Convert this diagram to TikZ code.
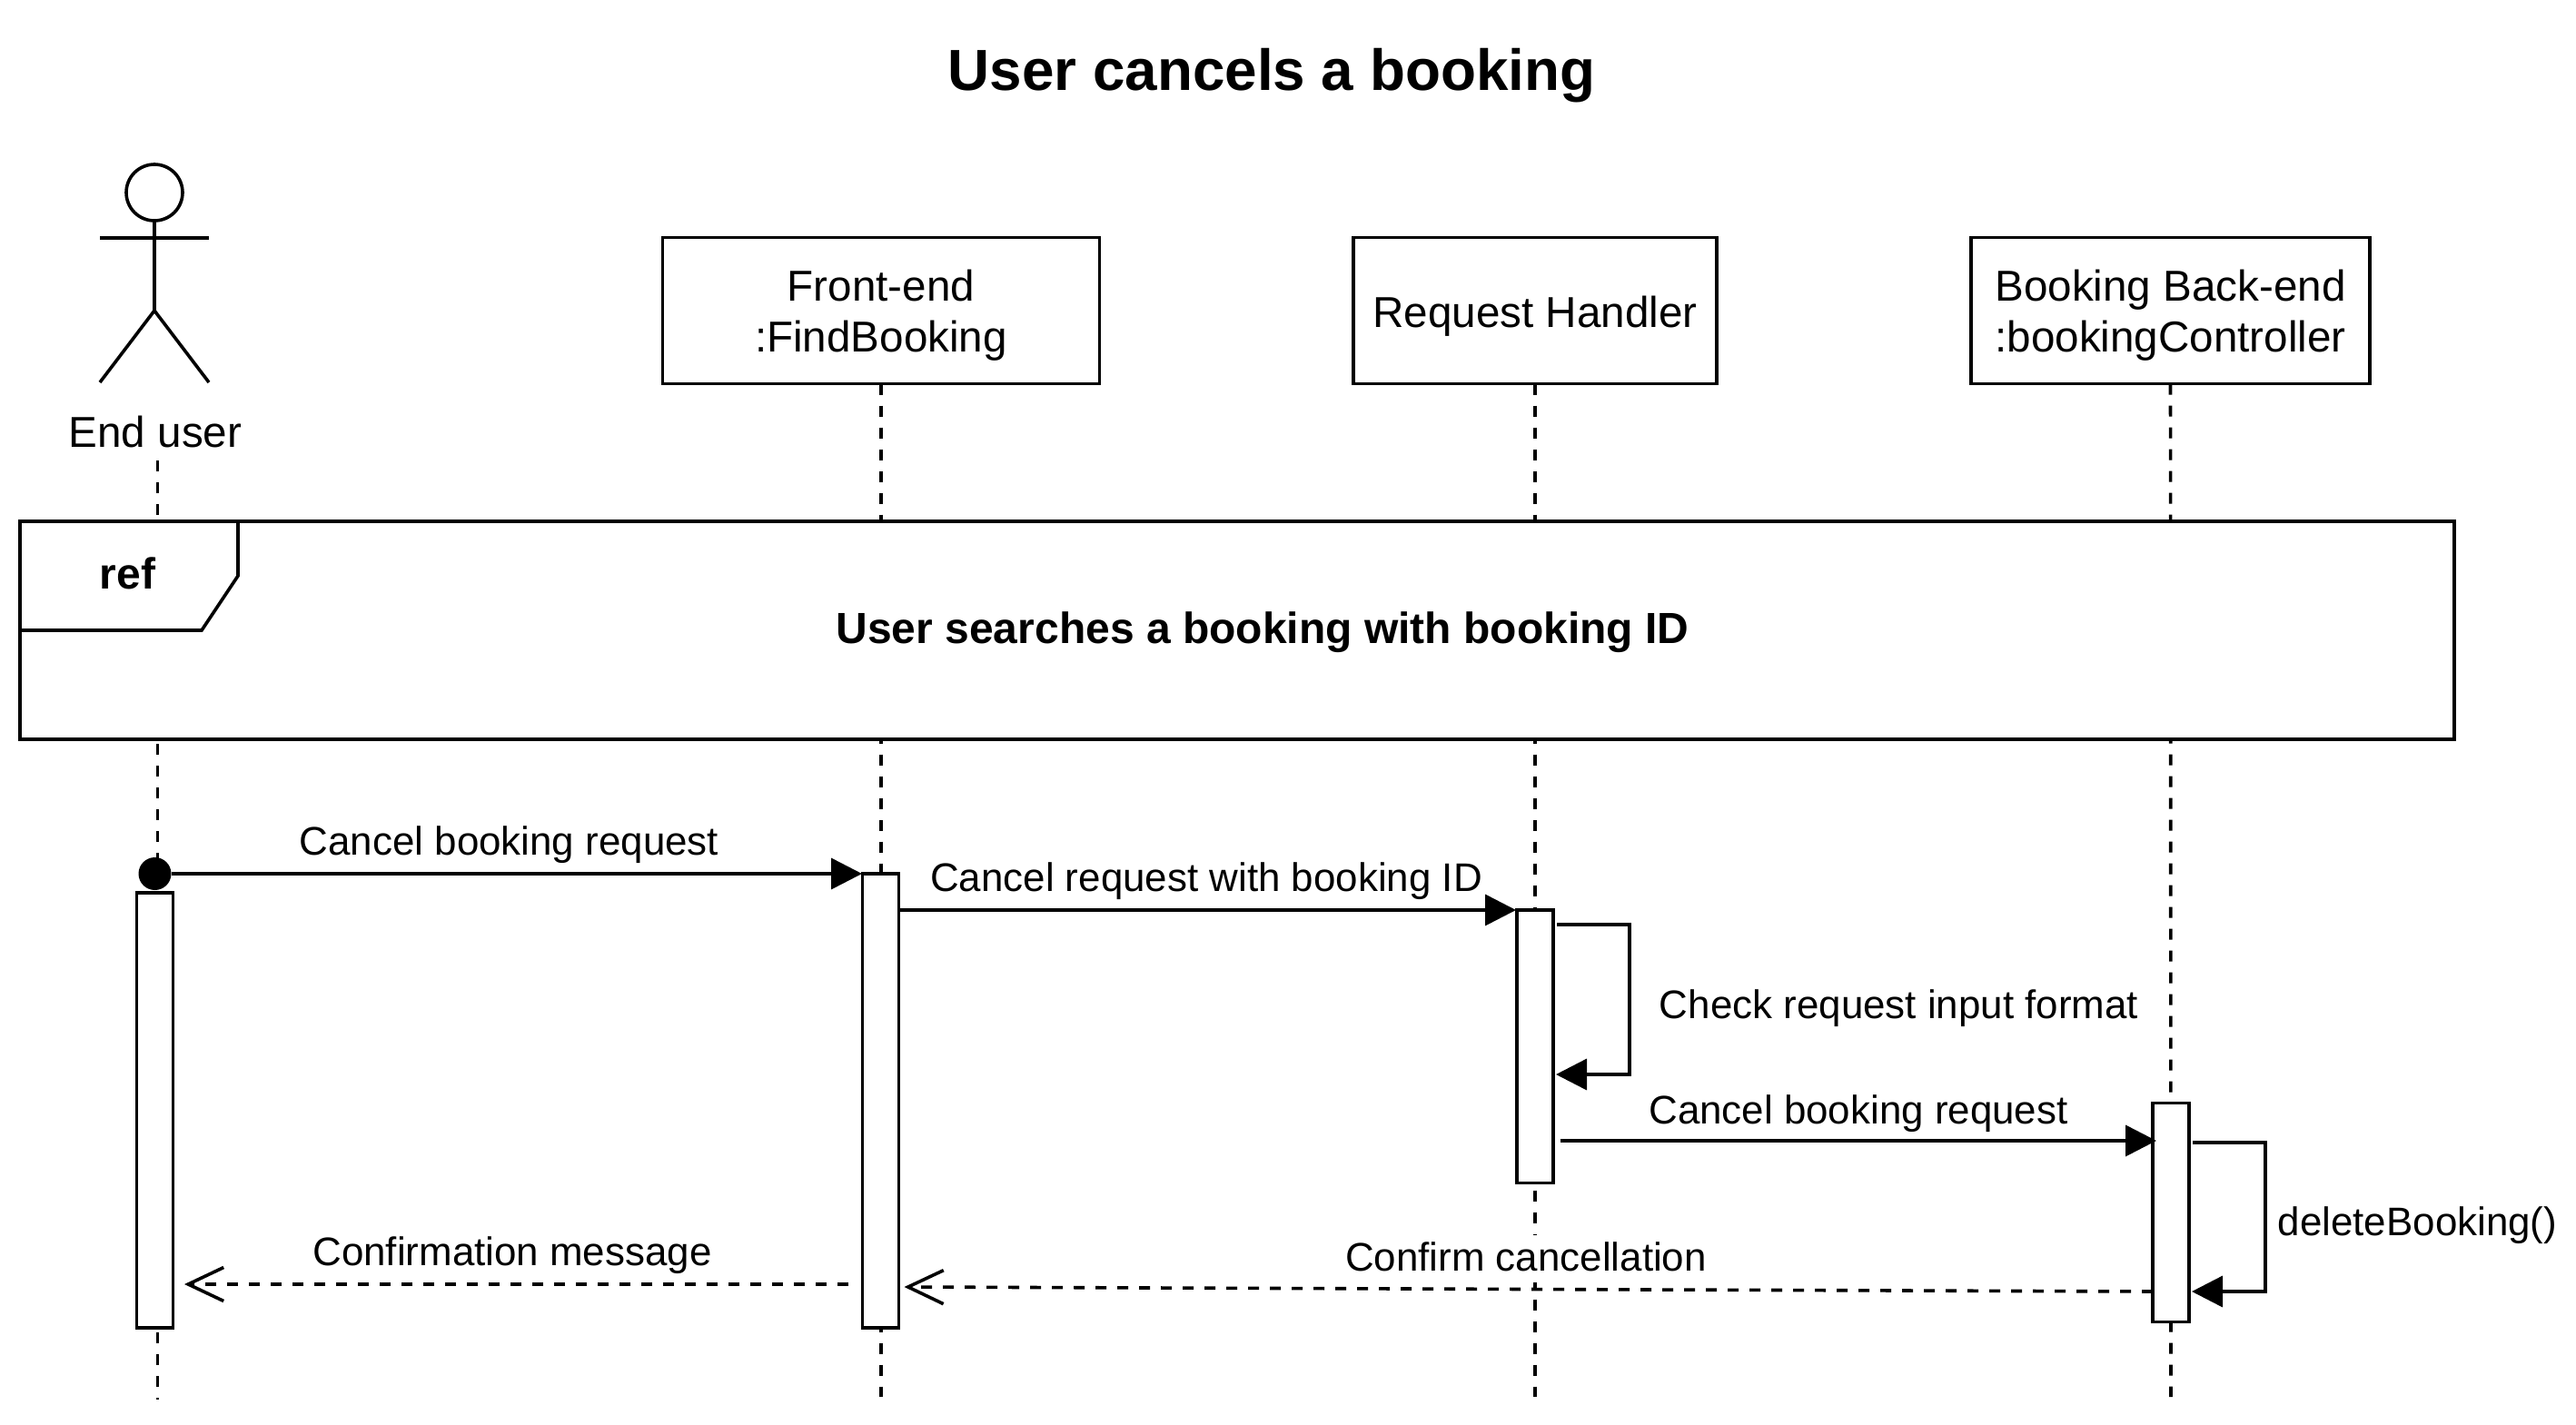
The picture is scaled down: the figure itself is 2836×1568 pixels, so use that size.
\documentclass[tikz,border=0pt]{standalone}
\usepackage{fontspec}
\setmainfont{Liberation Sans}
\usetikzlibrary{arrows.meta}
\newcommand{\fbig}{\fontsize{23.8}{28}\selectfont}
\newcommand{\fbold}{\fontsize{24}{28}\selectfont\bfseries}
\newcommand{\fmsg}{\fontsize{21.95}{26}\selectfont}
\newcommand{\ftitle}{\fontsize{31.9}{38}\selectfont\bfseries}
\tikzset{
  every node/.style={outer sep=0pt,inner sep=0pt},
  ln/.style={line width=1.8pt,black},
  boxnode/.style={ln,draw,fill=white,minimum height=80.5pt,font=\fbig},
  act/.style={ln,draw,fill=white,minimum width=20pt},
  life/.style={ln,dash pattern=on 6pt off 6pt},
  msg/.style={ln,-{Triangle[length=17pt,width=17pt]}},
  ret/.style={ln,dash pattern=on 6pt off 6pt,-{Straight Barb[length=19.5pt,width=18.5pt,line width=1.8pt]}},
  lab/.style={anchor=base,font=\fmsg},
  biglab/.style={anchor=base,font=\fbig},
  boldlab/.style={anchor=base,font=\fbold},
}
\begin{document}
\begin{tikzpicture}[x=0.5pt,y=-0.5pt]
\useasboundingbox (0,0) rectangle (2836,1568);
\fill[white] (0,0) rectangle (2836,1568);

\node[anchor=base,font=\ftitle] (title) at (1400,100) {User cancels a booking};

% actor
\node[ln,draw,circle,minimum size=31pt] (head) at (170,212) {};
\coordinate (hip) at (170,342);
\coordinate (armL) at (110,262);
\coordinate (armR) at (230,262);
\coordinate (footL) at (110,421);
\coordinate (footR) at (230,421);
\draw[ln] (head.south) -- (hip);
\draw[ln] (armL) -- (armR);
\draw[ln] (footL) -- (hip) -- (footR);
\node[biglab] (actorlabel) at (171,492) {End user};

% participant boxes
\node[boxnode,minimum width=240.5pt,text height=20pt,text depth=30.5pt] (front) at (970,342)
  {\begin{tabular}[t]{@{}c@{}}Front-end\\:FindBooking\end{tabular}};
\node[boxnode,minimum width=200pt,text height=20pt,text depth=1.5pt] (handler) at (1690,342) {Request Handler};
\node[boxnode,minimum width=219.5pt,text height=20pt,text depth=30.5pt] (back) at (2389.5,342)
  {\begin{tabular}[t]{@{}c@{}}Booking Back-end\\:bookingController\end{tabular}};

% lifeline ends
\coordinate (l1s) at (173.5,507);
\coordinate (l1e) at (173.5,1541);
\coordinate (l2e) at (970,1538);
\coordinate (l3e) at (1690,1538);
\coordinate (l4e) at (2390,1538);
\draw[life] (l1s) -- (l1e);
\draw[life] (front.south) -- (l2e);
\draw[life] (handler.south) -- (l3e);
\draw[life] (back.south) -- (l4e);

% ref frame
\node[ln,draw,fill=white,minimum width=1340pt,minimum height=120pt] (frame) at (1362,694) {};
\coordinate (t1) at (262,574);
\coordinate (t2) at (262,634);
\coordinate (t3) at (222,694);
\coordinate (t4) at (22,694);
\draw[ln] (t1) -- (t2) -- (t3) -- (t4);
\node[boldlab] (reflabel) at (140.5,648) {ref};
\node[boldlab] (frametext) at (1390,708) {User searches a booking with booking ID};

% activations
\node[act,minimum height=239.5pt] (a1) at (170.5,1222.5) {};
\node[act,minimum height=250pt] (a2) at (969.5,1212) {};
\node[act,minimum height=150.3pt] (a3) at (1690,1152.3) {};
\node[act,minimum height=120.5pt] (a4) at (2390,1335) {};

% message 1
\node[circle,fill=black,minimum size=18pt] (dot) at (170.5,962) {};
\coordinate (m1e) at (949,962);
\draw[msg] (dot) -- (m1e);
\node[lab] (m1l) at (560.5,941) {Cancel booking request};

% message 2
\coordinate (m2s) at (990,1002);
\coordinate (m2e) at (1669,1002);
\draw[msg] (m2s) -- (m2e);
\node[lab] (m2l) at (1328,981) {Cancel request with booking ID};

% self call on handler
\coordinate (s3a) at (1714,1018);
\coordinate (s3b) at (1794,1018);
\coordinate (s3c) at (1794,1183);
\coordinate (s3d) at (1713,1183);
\draw[msg] (s3a) -- (s3b) -- (s3c) -- (s3d);
\node[lab] (s3l) at (2090.5,1121) {Check request input format};

% message 4
\coordinate (m4s) at (1717.5,1256);
\coordinate (m4e) at (2374,1256);
\draw[msg] (m4s) -- (m4e);
\node[lab] (m4l) at (2046,1237) {Cancel booking request};

% self call on back-end
\coordinate (s4a) at (2414,1258);
\coordinate (s4b) at (2494,1258);
\coordinate (s4c) at (2494,1422);
\coordinate (s4d) at (2413,1422);
\draw[msg] (s4a) -- (s4b) -- (s4c) -- (s4d);
\node[lab] (s4l) at (2661.5,1360) {deleteBooking()};

% returns
\node[lab,fill=white,text height=19.5pt,text depth=6.5pt] (r1l) at (1680,1399) {Confirm cancellation};
\coordinate (r1s) at (2370,1422);
\coordinate (r1e) at (995.5,1417);
\draw[ret] (r1s) -- (r1e);

\coordinate (r2s) at (934,1414);
\coordinate (r2e) at (203,1414);
\draw[ret] (r2s) -- (r2e);
\node[lab] (r2l) at (564,1393) {Confirmation message};
\end{tikzpicture}
\end{document}
